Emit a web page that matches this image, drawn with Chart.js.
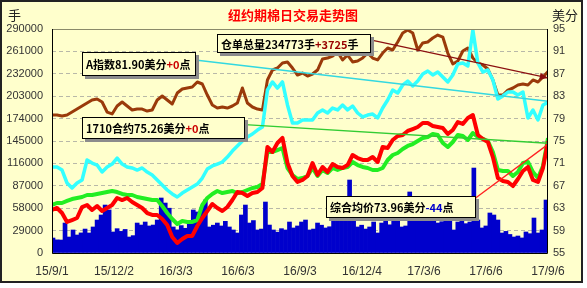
<!DOCTYPE html>
<html>
<head>
<meta charset="utf-8">
<script src="https://cdn.jsdelivr.net/npm/chart.js@4.4.0/dist/chart.umd.min.js"></script>
<style>
html, body { margin: 0; padding: 0; background: #fff; }
#frame { position: absolute; left: 0; top: 0; width: 579px; height: 279px; border: 2px solid #222; background: #FFFFCC; }
#wrap { position: absolute; left: 0; top: 0; width: 587px; height: 288px; }
</style>
</head>
<body>
<div id="frame"></div>
<div id="wrap"><canvas id="myChart" width="587" height="288"></canvas></div>
<script>
// nhãn trục thời gian
const xLabels = ['15/9/1', '15/12/2', '16/3/3', '16/6/3', '16/9/3', '16/12/4', '17/3/6', '17/6/6', '17/9/6'];

// 仓单总量 (nghìn 手) - trục trái
const openInterest = [
  178.7, 178.7, 177.4, 178.7, 182.5, 186.4, 190.3, 194.2, 198.1, 199.4,
  195.5, 182.5, 180.0, 190.3, 195.5, 190.3, 185.1, 186.4, 186.4, 183.8,
  185.1, 198.1, 203.3, 198.1, 192.9, 207.1, 212.3, 213.6, 214.9, 221.4,
  218.8, 204.5, 191.6, 187.7, 189.0, 187.7, 190.3, 194.2, 213.6, 194.2,
  189.0, 186.4, 185.1, 224.0, 236.9, 239.5, 246.0, 247.3, 239.5, 230.4,
  233.0, 229.1, 231.7, 236.9, 251.2, 252.4, 255.0, 260.2, 249.9, 256.3,
  247.3, 248.6, 252.4, 258.9, 252.4, 249.9, 258.9, 265.4, 262.8, 273.2,
  284.8, 288.7, 284.8, 262.8, 271.9, 273.2, 278.3, 282.2, 279.6, 258.9,
  244.7, 248.6, 261.5, 265.4, 252.4, 246.0, 243.4, 238.2, 224.0, 204.5,
  204.5, 211.0, 213.6, 217.5, 218.8, 217.5, 224.0, 221.4, 227.9, 234.8
];

// A指数 (美分) - trục phải
const indexA = [
  70.36, 70.36, 69.82, 67.5, 66.61, 67.5, 68.04, 71.61, 71.07, 70.71,
  69.46, 70.36, 70.89, 71.96, 70.89, 70.36, 70.18, 69.82, 70.18, 69.46,
  68.93, 68.04, 67.14, 66.25, 65.54, 65.0, 65.71, 66.25, 66.79, 67.32,
  68.39, 70.0, 70.54, 70.89, 71.25, 72.14, 73.21, 74.11, 75.0, 75.71,
  76.25, 76.96, 77.5, 84.11, 85.54, 84.46, 85.54, 81.43, 78.21, 78.21,
  78.75, 78.75, 78.75, 80.0, 80.54, 80.0, 80.89, 80.54, 81.43, 80.54,
  81.25, 80.0, 79.29, 79.64, 79.82, 79.11, 80.89, 82.32, 84.11, 83.57,
  85.0, 85.71, 84.82, 85.71, 86.96, 87.5, 86.79, 87.32, 86.43, 85.54,
  86.79, 88.75, 88.93, 88.39, 94.8, 88.93, 87.32, 87.68, 85.89, 82.5,
  83.04, 83.75, 83.75, 83.21, 83.75, 79.11, 80.54, 78.75, 81.43, 81.9
];

// 1710合约
const c1710 = [
  62.68, 63.04, 62.14, 60.54, 60.89, 61.25, 63.21, 63.57, 62.68, 63.39,
  62.5, 63.04, 63.57, 64.82, 64.46, 64.82, 64.11, 63.57, 63.04, 62.14,
  61.79, 61.79, 61.07, 60.0, 57.86, 56.79, 57.5, 58.04, 58.04, 59.82,
  61.25, 62.5, 63.75, 63.04, 62.5, 63.21, 64.46, 65.89, 65.71, 65.18,
  65.71, 65.89, 66.61, 73.93, 73.04, 74.64, 75.54, 71.07, 68.75, 67.68,
  68.04, 68.75, 71.07, 68.93, 70.36, 69.46, 70.89, 70.36, 70.18, 70.71,
  72.5, 71.96, 71.61, 71.61, 72.14, 71.25, 73.93, 73.75, 75.18, 75.89,
  76.07, 76.79, 77.14, 77.5, 78.21, 78.21, 77.68, 77.5, 77.32, 76.25,
  76.96, 78.39, 78.04, 79.11, 79.64, 76.07, 75.36, 74.82, 72.14, 68.39,
  67.86, 67.68, 66.96, 68.21, 69.64, 70.36, 68.04, 67.68, 70.18, 74.9
];

// 综合均价
const avgPrice = [
  63.57, 63.93, 63.93, 64.29, 64.64, 64.82, 65.0, 65.36, 65.36, 65.54,
  65.71, 65.89, 66.07, 65.89, 65.54, 65.36, 65.36, 65.0, 64.82, 64.64,
  64.46, 64.46, 63.39, 62.14, 61.07, 60.18, 60.71, 60.54, 60.54, 60.89,
  63.57, 64.82, 65.54, 66.07, 65.71, 65.89, 66.07, 65.71, 65.89, 66.25,
  66.61, 66.79, 67.32, 73.04, 73.04, 73.39, 73.75, 70.18, 68.93, 68.21,
  68.39, 68.75, 70.18, 68.75, 69.82, 69.29, 70.18, 69.82, 70.18, 70.36,
  71.25, 70.71, 70.36, 70.18, 69.82, 69.82, 70.18, 71.61, 72.5, 72.86,
  73.57, 74.11, 74.46, 75.0, 75.54, 75.71, 76.25, 76.07, 74.64, 73.93,
  74.82, 76.07, 75.89, 75.18, 76.43, 75.71, 75.36, 75.0, 73.04, 69.82,
  69.64, 69.64, 68.75, 69.46, 71.07, 71.25, 69.46, 68.39, 70.54, 75.5
];

// 成交量 (nghìn 手)
const volume = [
  19.4, 17.0, 16.8, 38.8, 20.7, 29.8, 23.3, 26.0, 31.0, 25.9,
  33.7, 42.7, 49.2, 62.1, 55.7, 27.2, 31.5, 28.0, 30.5, 20.7,
  22.5, 38.8, 36.2, 40.1, 35.0, 36.2, 42.7, 71.2, 64.7, 58.0,
  33.7, 30.0, 35.5, 32.0, 40.1, 55.7, 53.1, 58.3, 68.6, 33.7,
  36.0, 38.8, 35.0, 41.0, 33.7, 29.8, 25.9, 49.2, 62.1, 38.8,
  42.0, 29.8, 31.0, 66.0, 36.2, 29.8, 27.0, 31.5, 29.8, 40.1,
  32.4, 35.0, 40.1, 42.7, 29.8, 31.0, 38.8, 36.0, 32.4, 34.0,
  46.6, 44.0, 48.0, 46.6, 94.5, 46.6, 33.7, 36.0, 31.0, 33.7,
  40.1, 25.9, 38.8, 41.0, 36.5, 45.3, 43.0, 33.7, 35.0, 79.0,
  45.3, 49.2, 47.0, 45.3, 42.0, 45.3, 38.8, 40.5, 46.6, 49.0,
  29.8, 40.1, 43.0, 38.0, 40.1, 110.0, 42.7, 32.4, 35.0, 51.8,
  49.2, 42.7, 25.9, 28.0, 24.0, 20.7, 22.0, 19.5, 27.2, 25.0,
  45.3, 25.9, 29.8, 68.6
];

// đường xu hướng [chỉ số, giá trị]
const trendIndex = [[19.6, 90.4], [99, 82.1]];
const trendAvg = [[29.6, 78.4], [99, 74.6]];
const trendOI = [[61, 279.4], [99, 226.6]];
const trendRed = [[83.6, 64.2], [99, 74.4]];

const notes = [
  { left: 82, top: 52, w: 114, h: 24, parts: [['A指数81.90美分', '#000'], ['+0', '#CC0000'], ['点', '#000']] },
  { left: 82, top: 117, w: 163, h: 22, parts: [['1710合约75.26美分', '#000'], ['+0', '#CC0000'], ['点', '#000']] },
  { left: 217, top: 34, w: 154, h: 19, parts: [['仓单总量234773手', '#000'], ['+3725', '#990000'], ['手', '#000']] },
  { left: 326, top: 196, w: 150, h: 22, parts: [['综合均价73.96美分', '#000'], ['-44', '#0000CC'], ['点', '#000']] }
];

const CJK = '"Noto Sans CJK SC", sans-serif';

const toXY = (arr, k) => arr.map((v, i) => ({ x: i, y: v * k }));
const trendXY = (arr, k) => arr.map(p => ({ x: p[0], y: p[1] * k }));

const trendLine = (arr, k, color, axis) => ({
  type: 'line', data: trendXY(arr, k), yAxisID: axis,
  borderColor: color, borderWidth: 1.3, pointRadius: 0, tension: 0
});
const mainLine = (arr, k, color, width, axis) => ({
  type: 'line', data: toXY(arr, k), yAxisID: axis,
  borderColor: color, borderWidth: width, pointRadius: 0, tension: 0, borderJoinStyle: 'round'
});

const decor = {
  id: 'decor',
  afterDatasetsDraw(chart) {
    const { ctx, chartArea: a } = chart;
    ctx.save();
    // khung vùng vẽ
    ctx.lineWidth = 1;
    ctx.strokeStyle = '#8a8a6a';
    ctx.beginPath(); ctx.moveTo(a.left, a.top + 0.5); ctx.lineTo(a.right, a.top + 0.5); ctx.stroke();
    ctx.strokeStyle = '#000';
    ctx.beginPath();
    ctx.moveTo(a.left + 0.5, a.top); ctx.lineTo(a.left + 0.5, a.bottom + 0.5);
    ctx.lineTo(a.right - 0.5, a.bottom + 0.5); ctx.lineTo(a.right - 0.5, a.top);
    ctx.stroke();

    // mũi tên cuối đường xu hướng
    [2].forEach(di => {
      const pts = chart.getDatasetMeta(di).data;
      const p1 = pts[0], p2 = pts[pts.length - 1];
      const ang = Math.atan2(p2.y - p1.y, p2.x - p1.x);
      ctx.fillStyle = chart.data.datasets[di].borderColor;
      ctx.beginPath();
      ctx.moveTo(p2.x, p2.y);
      ctx.lineTo(p2.x - 9 * Math.cos(ang - 0.4), p2.y - 9 * Math.sin(ang - 0.4));
      ctx.lineTo(p2.x - 9 * Math.cos(ang + 0.4), p2.y - 9 * Math.sin(ang + 0.4));
      ctx.closePath(); ctx.fill();
    });

    // tiêu đề
    ctx.textBaseline = 'middle';
    ctx.textAlign = 'center';
    ctx.fillStyle = '#FF0000';
    ctx.font = 'bold 13px ' + CJK;
    ctx.fillText('纽约期棉日交易走势图', 293, 15);
    ctx.textAlign = 'left';
    ctx.fillStyle = '#222';
    ctx.font = '13px ' + CJK;
    ctx.fillText('手', 8, 15);
    ctx.fillText('美分', 552, 15);

    // hộp chú thích
    ctx.font = 'bold 11px ' + CJK;
    notes.forEach(n => {
      ctx.fillStyle = '#8c8c8c';
      ctx.fillRect(n.left + 3, n.top + 3, n.w, n.h);
      ctx.fillStyle = '#FFFFCC';
      ctx.fillRect(n.left, n.top, n.w, n.h);
      ctx.strokeStyle = '#000';
      ctx.strokeRect(n.left + 0.5, n.top + 0.5, n.w - 1, n.h - 1);
      let x = n.left + 4;
      n.parts.forEach(([t, c]) => {
        ctx.fillStyle = c;
        ctx.fillText(t, x, n.top + n.h / 2 + 1);
        x += ctx.measureText(t).width;
      });
    });
    ctx.restore();
  }
};

const tickFont = { family: '"Liberation Sans", Arial, sans-serif', size: 11 };

new Chart(document.getElementById('myChart'), {
  type: 'line',
  data: {
    datasets: [
      trendLine(trendIndex, 1, '#33d8e0', 'yR'),
      trendLine(trendAvg, 1, '#33cc33', 'yR'),
      trendLine(trendOI, 1000, '#8b1010', 'yL'),
      trendLine(trendRed, 1, '#ff2020', 'yR'),
      mainLine(c1710, 1, '#FF0000', 4, 'yR'),
      mainLine(avgPrice, 1, '#22EE22', 4, 'yR'),
      mainLine(indexA, 1, '#33FFFF', 3.5, 'yR'),
      mainLine(openInterest, 1000, '#9A3A0A', 3, 'yL'),
      {
        type: 'bar', yAxisID: 'yL',
        data: volume.map((v, j) => ({ x: 0.2 + 0.8 * j, y: v * 1000 })),
        backgroundColor: '#0000CC', borderWidth: 0,
        barPercentage: 1, categoryPercentage: 1, grouped: false
      }
    ]
  },
  options: {
    responsive: false,
    animation: false,
    layout: { padding: { top: 29, left: 0, right: 0, bottom: 0 } },
    plugins: { legend: { display: false }, tooltip: { enabled: false }, title: { display: false } },
    scales: {
      x: {
        type: 'linear', min: 0, max: 99, offset: false,
        grid: { display: false, drawTicks: false },
        border: { display: false },
        afterBuildTicks: s => { s.ticks = xLabels.map((_, k) => ({ value: k * 99 / 8 })); },
        afterFit: s => { s.height = 35; },
        ticks: {
          autoSkip: false, maxRotation: 0, padding: 11,
          color: '#333', font: { family: tickFont.family, size: 12 },
          callback: (v, i) => xLabels[i]
        }
      },
      yL: {
        position: 'left', min: 0, max: 290000,
        afterFit: s => { s.width = 52; },
        grid: { color: '#b8b8a8', lineWidth: 1, drawTicks: false },
        border: { display: false, dash: [4, 3] },
        ticks: { stepSize: 29000, padding: 9, color: '#333', font: tickFont, callback: v => String(v) }
      },
      yR: {
        position: 'right', min: 55, max: 95,
        afterFit: s => { s.width = 39; },
        grid: { drawOnChartArea: false, drawTicks: false },
        border: { display: false },
        ticks: { stepSize: 4, padding: 5, color: '#333', font: tickFont }
      }
    }
  },
  plugins: [decor]
});
</script>
</body>
</html>
